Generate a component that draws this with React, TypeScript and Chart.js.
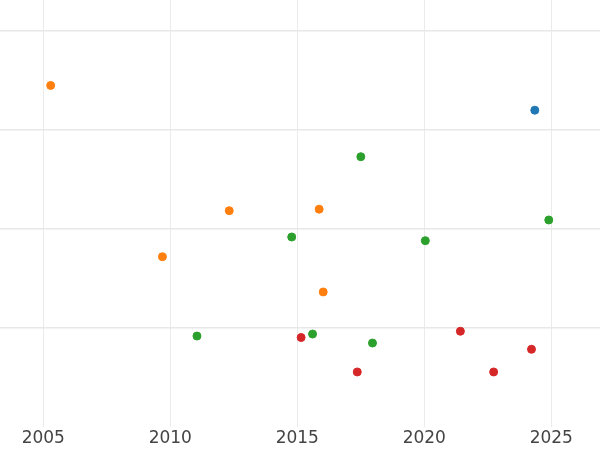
import React, { useEffect, useRef } from "react";
import { Chart, registerables } from "chart.js";

Chart.register(...registerables);

const xTicks = [2005, 2010, 2015, 2020, 2025];
const yTicks = [1, 2, 3, 4];

const blueYears = [2024.35];
const blueValues = [3.2];

const orangeYears = [2005.29, 2009.69, 2012.32, 2015.86, 2016.02];
const orangeValues = [3.45, 1.72, 2.185, 2.2, 1.364];

const greenYears = [2011.05, 2014.78, 2015.6, 2017.5, 2017.96, 2020.04, 2024.9];
const greenValues = [0.919, 1.919, 0.939, 2.73, 0.848, 1.882, 2.091];

const redYears = [2015.15, 2017.36, 2021.42, 2022.73, 2024.22];
const redValues = [0.904, 0.556, 0.967, 0.556, 0.785];

const toPoints = (xs: number[], ys: number[]) => xs.map((x, i) => ({ x, y: ys[i] }));

export default function App() {
  const ref = useRef<HTMLCanvasElement | null>(null);
  useEffect(() => {
    document.body.style.margin = "0";
    if (!ref.current) return;
    const mk = (label: string, xs: number[], ys: number[], color: string) => ({
      label,
      data: toPoints(xs, ys),
      backgroundColor: color,
      borderColor: color,
      pointRadius: 4,
      pointBorderWidth: 1,
      pointHoverRadius: 4,
    });
    const chart = new Chart(ref.current, {
      type: "scatter",
      data: {
        datasets: [
          mk("blue", blueYears, blueValues, "#1f77b4"),
          mk("orange", orangeYears, orangeValues, "#ff7f0e"),
          mk("green", greenYears, greenValues, "#2ca02c"),
          mk("red", redYears, redValues, "#d62728"),
        ],
      },
      options: {
        animation: false,
        responsive: false,
        layout: { padding: 0, autoPadding: false },
        plugins: { legend: { display: false }, tooltip: { enabled: false } },
        scales: {
          x: {
            type: "linear",
            min: 2003.295,
            max: 2026.917,
            afterBuildTicks: (s: any) => {
              s.ticks = xTicks.map((v) => ({ value: v }));
            },
            grid: { color: "#ebebeb", lineWidth: 1, drawTicks: false },
            border: { display: false },
            ticks: {
              padding: 3,
              color: "#444444",
              font: { family: "DejaVu Sans", size: 17, lineHeight: 1 },
              maxRotation: 0,
              callback: (v: any) => String(v),
            },
          },
          y: {
            type: "linear",
            min: 0,
            max: 4.313,
            afterBuildTicks: (s: any) => {
              s.ticks = yTicks.map((v) => ({ value: v }));
            },
            grid: { color: "#e8e8e8", lineWidth: 1.5, drawTicks: false },
            border: { display: false },
            ticks: { display: false },
          },
        },
      },
    });
    return () => chart.destroy();
  }, []);
  return (
    <div style={{ width: 600, height: 450 }}>
      <canvas ref={ref} width={600} height={450} />
    </div>
  );
}
